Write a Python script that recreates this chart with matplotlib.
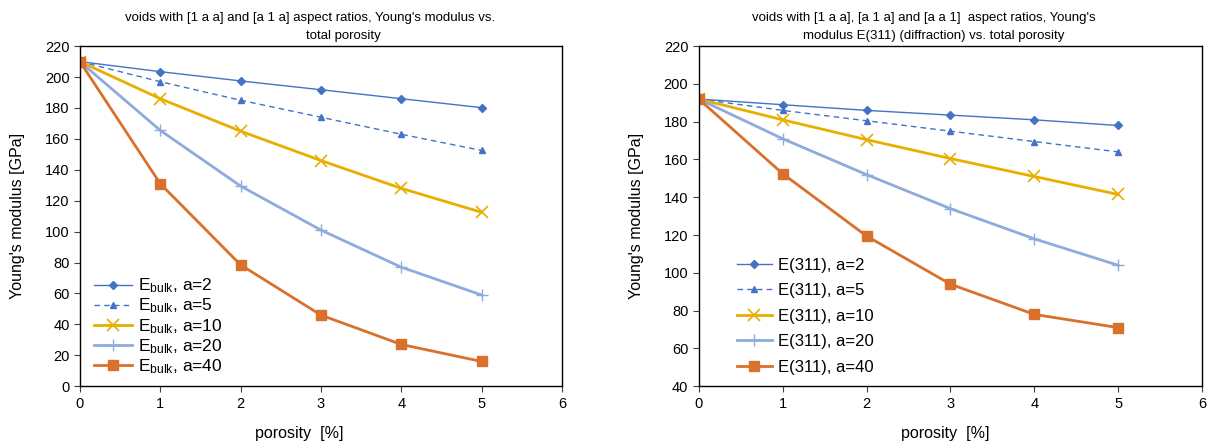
import matplotlib
matplotlib.use("Agg")
import matplotlib.pyplot as plt

plt.rcParams['font.family'] = ['Liberation Sans', 'DejaVu Sans']
plt.rcParams['mathtext.fontset'] = 'custom'
plt.rcParams['mathtext.rm'] = 'Liberation Sans'
plt.rcParams['mathtext.it'] = 'Liberation Sans'

porosity = [0, 1, 2, 3, 4, 5]
a_values = [2, 5, 10, 20, 40]

# left chart: E_bulk
bulk_a2 = [210, 203.5, 197.5, 191.8, 186, 180.2]
bulk_a5 = [210, 197, 185, 174, 163, 152.5]
bulk_a10 = [210, 186, 165, 146, 128, 112.5]
bulk_a20 = [210, 165.5, 129.5, 101, 77, 59]
bulk_a40 = [210, 131, 78.5, 46, 27, 16]

# right chart: E(311)
e311_a2 = [192, 189, 186, 183.5, 181, 178]
e311_a5 = [192, 186, 180.5, 175, 169.5, 164]
e311_a10 = [192, 181, 170.5, 160.5, 151, 141.5]
e311_a20 = [192, 171, 152, 134, 118, 104]
e311_a40 = [192, 152.5, 119.5, 94, 78, 71]

styles = [
    dict(color='#4472C4', marker='D', ms=4, lw=1.0, ls='-'),
    dict(color='#4472C4', marker='^', ms=5, lw=1.0, ls=(0, (4, 3))),
    dict(color='#E8AE00', marker='x', ms=8, mew=1.2, lw=2.0, ls='-'),
    dict(color='#8FAADC', marker='+', ms=9, mew=1.0, lw=2.0, ls='-'),
    dict(color='#D9702C', marker='s', ms=7, lw=2.0, ls='-'),
]

fig = plt.figure(figsize=(12.11, 4.48), dpi=100)
ax1 = fig.add_axes([0.066, 0.138, 0.398, 0.759])
ax2 = fig.add_axes([0.577, 0.138, 0.4156, 0.759])

left_series = [bulk_a2, bulk_a5, bulk_a10, bulk_a20, bulk_a40]
right_series = [e311_a2, e311_a5, e311_a10, e311_a20, e311_a40]

for vals, a, st in zip(left_series, a_values, styles):
    ax1.plot(porosity, vals, label=r'E$_{\mathrm{bulk}}$, a=%d' % a, **st)
for vals, a, st in zip(right_series, a_values, styles):
    ax2.plot(porosity, vals, label='E(311), a=%d' % a, **st)

ax1.set_ylim(0, 220)
ax1.set_yticks(range(0, 221, 20))
ax2.set_ylim(40, 220)
ax2.set_yticks(range(40, 221, 20))

for ax in (ax1, ax2):
    ax.set_xlim(0, 6)
    ax.set_xticks(range(0, 7))
    ax.tick_params(direction='out', length=4, width=0.8, labelsize=10.5, colors='#404040',
                   labelcolor='black')
    for sp in ax.spines.values():
        sp.set_color('black')
        sp.set_linewidth(1.0)
    ax.set_xlabel('porosity  [%]', fontsize=11.5)
    ax.set_ylabel("Young's modulus [GPa]", fontsize=11.5)

ax1.xaxis.set_label_coords(0.456, -0.118)
ax2.xaxis.set_label_coords(0.49, -0.118)
ax1.yaxis.set_label_coords(-0.114, 0.5)
ax2.yaxis.set_label_coords(-0.109, 0.5)

ax1.legend(loc='lower left', bbox_to_anchor=(0.0, -0.01), frameon=False, fontsize=12.5,
           handlelength=2.2, handletextpad=0.35, labelspacing=0.08, borderaxespad=0.4)
ax2.legend(loc='lower left', bbox_to_anchor=(0.049, -0.005), frameon=False, fontsize=12,
           handlelength=2.1, handletextpad=0.4, labelspacing=0.63, borderaxespad=0.4)

fig.text(125 / 1211, 0.973, "voids with [1 a a] and [a 1 a] aspect ratios, Young's modulus vs.",
         ha='left', va='top', fontsize=9.5)
fig.text(343 / 1211, 0.933, "total porosity", ha='center', va='top', fontsize=9.5)
fig.text(752 / 1211, 0.973, "voids with [1 a a], [a 1 a] and [a a 1]  aspect ratios, Young's",
         ha='left', va='top', fontsize=9.5)
fig.text(803 / 1211, 0.933, "modulus E(311) (diffraction) vs. total porosity",
         ha='left', va='top', fontsize=9.5)

fig.savefig('out.png', dpi=100)
